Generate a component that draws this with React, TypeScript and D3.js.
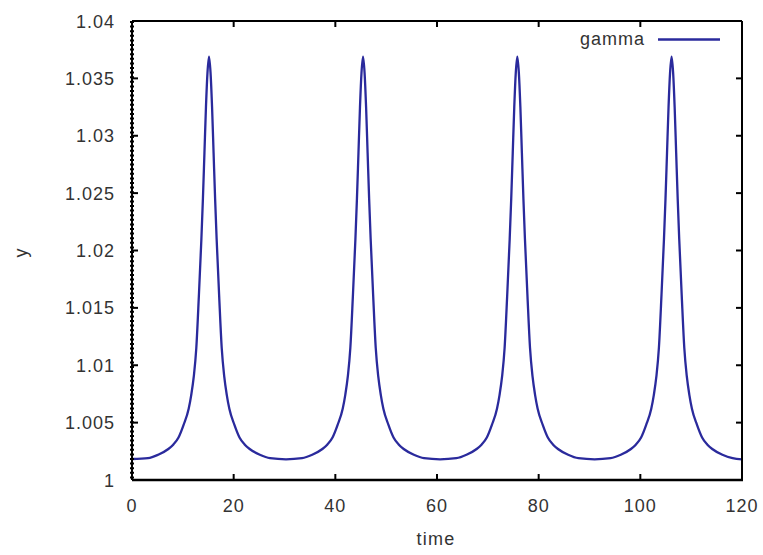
import React from "react";
import * as d3 from "d3";

// Sampled gamma(t) series
const timeValues: number[] = [
  0, 3.15, 5.15, 7.15, 8.15, 9.15, 10.15, 11.15, 11.65, 12.15, 12.65, 13.15, 13.65, 13.95, 14.25, 14.55, 14.85,
  15.15, 15.45, 15.75, 16.05, 16.35, 16.65, 17.15, 17.65, 18.15, 18.65, 19.15, 20.15, 21.15, 22.15, 23.15, 25.15, 27.15,
  30.3,
  33.45, 35.45, 37.45, 38.45, 39.45, 40.45, 41.45, 41.95, 42.45, 42.95, 43.45, 43.95, 44.25, 44.55, 44.85, 45.15,
  45.45, 45.75, 46.05, 46.35, 46.65, 46.95, 47.45, 47.95, 48.45, 48.95, 49.45, 50.45, 51.45, 52.45, 53.45, 55.45, 57.45,
  60.6,
  63.8, 65.8, 67.8, 68.8, 69.8, 70.8, 71.8, 72.3, 72.8, 73.3, 73.8, 74.3, 74.6, 74.9, 75.2, 75.5,
  75.8, 76.1, 76.4, 76.7, 77.0, 77.3, 77.8, 78.3, 78.8, 79.3, 79.8, 80.8, 81.8, 82.8, 83.8, 85.8, 87.8,
  91.0,
  94.15, 96.15, 98.15, 99.15, 100.15, 101.15, 102.15, 102.65, 103.15, 103.65, 104.15, 104.65, 104.95, 105.25, 105.55, 105.85,
  106.15, 106.45, 106.75, 107.05, 107.35, 107.65, 108.15, 108.65, 109.15, 109.65, 110.15, 111.15, 112.15, 113.15, 114.15, 116.15, 118.15,
  120,
];

const gammaValues: number[] = [
  1.00183, 1.0019, 1.0022, 1.0027, 1.0031, 1.0037, 1.0048, 1.0062, 1.0074, 1.009, 1.0115, 1.016, 1.021, 1.0245, 1.0285, 1.0325, 1.0355,
  1.0369, 1.0355, 1.0325, 1.0285, 1.0245, 1.021, 1.016, 1.0115, 1.009, 1.0074, 1.0062, 1.0048, 1.0037, 1.0031, 1.0027, 1.0022, 1.0019,
  1.0018,
  1.0019, 1.0022, 1.0027, 1.0031, 1.0037, 1.0048, 1.0062, 1.0074, 1.009, 1.0115, 1.016, 1.021, 1.0245, 1.0285, 1.0325, 1.0355,
  1.0369, 1.0355, 1.0325, 1.0285, 1.0245, 1.021, 1.016, 1.0115, 1.009, 1.0074, 1.0062, 1.0048, 1.0037, 1.0031, 1.0027, 1.0022, 1.0019,
  1.0018,
  1.0019, 1.0022, 1.0027, 1.0031, 1.0037, 1.0048, 1.0062, 1.0074, 1.009, 1.0115, 1.016, 1.021, 1.0245, 1.0285, 1.0325, 1.0355,
  1.0369, 1.0355, 1.0325, 1.0285, 1.0245, 1.021, 1.016, 1.0115, 1.009, 1.0074, 1.0062, 1.0048, 1.0037, 1.0031, 1.0027, 1.0022, 1.0019,
  1.0018,
  1.0019, 1.0022, 1.0027, 1.0031, 1.0037, 1.0048, 1.0062, 1.0074, 1.009, 1.0115, 1.016, 1.021, 1.0245, 1.0285, 1.0325, 1.0355,
  1.0369, 1.0355, 1.0325, 1.0285, 1.0245, 1.021, 1.016, 1.0115, 1.009, 1.0074, 1.0062, 1.0048, 1.0037, 1.0031, 1.0027, 1.0022, 1.0019,
  1.0018,
];

const xTicks: number[] = [0, 20, 40, 60, 80, 100, 120];
const yTicks: number[] = [1, 1.005, 1.01, 1.015, 1.02, 1.025, 1.03, 1.035, 1.04];
const yTickLabels: string[] = ["1", "1.005", "1.01", "1.015", "1.02", "1.025", "1.03", "1.035", "1.04"];

const W = 763;
const H = 555;
const M = { left: 132, right: 742, top: 21, bottom: 480 };
const FONT = "'Liberation Sans', Arial, sans-serif";
const LINE = "#2a2a9c";

export default function App() {
  const x = d3.scaleLinear().domain([0, 120]).range([M.left, M.right]);
  const y = d3.scaleLinear().domain([1, 1.04]).range([M.bottom, M.top]);
  const pts = timeValues.map((t, i) => [t, gammaValues[i]] as [number, number]);
  const path = d3
    .line<[number, number]>()
    .x((d) => x(d[0]))
    .y((d) => y(d[1]))
    .curve(d3.curveMonotoneX)(pts) as string;

  const tick = 6;
  return (
    <svg
      width={W}
      height={H}
      style={{ position: "absolute", left: 0, top: 0, background: "#fff" }}
      fontFamily={FONT}
    >
      <rect width={W} height={H} fill="#fff" />
      {/* data curve */}
      <path d={path} fill="none" stroke={LINE} strokeWidth={2.3} strokeLinejoin="round" />

      {/* frame */}
      <line x1={M.left} x2={M.right} y1={M.top} y2={M.top} stroke="#000" strokeWidth={2} />
      <line x1={M.left} x2={M.right + 1} y1={M.bottom} y2={M.bottom} stroke="#000" strokeWidth={2.4} />
      <line x1={M.right} x2={M.right} y1={M.top} y2={M.bottom} stroke="#000" strokeWidth={2} />
      <line x1={M.left} x2={M.left} y1={M.top} y2={M.bottom} stroke="#000" strokeWidth={2} />
      <line
        x1={M.left}
        x2={M.left}
        y1={M.top}
        y2={M.bottom}
        stroke="#000"
        strokeWidth={4}
        strokeDasharray="2 2.6"
      />

      {/* x ticks */}
      {xTicks.map((t) => (
        <g key={"x" + t}>
          {t > 0 && t < 120 && (
            <>
              <line x1={x(t)} x2={x(t)} y1={M.bottom} y2={M.bottom - tick} stroke="#000" strokeWidth={2} />
              <line x1={x(t)} x2={x(t)} y1={M.top} y2={M.top + tick} stroke="#000" strokeWidth={2} />
            </>
          )}
          <text
            x={x(t)}
            y={512}
            textAnchor="middle"
            fontSize={18}
            letterSpacing={1}
            fill="#333"
          >
            {t}
          </text>
        </g>
      ))}

      {/* y ticks */}
      {yTicks.map((v, i) => (
        <g key={"y" + v}>
          {i > 0 && i < yTicks.length - 1 && (
            <>
              <line x1={M.left} x2={M.left + tick} y1={y(v)} y2={y(v)} stroke="#000" strokeWidth={2} />
              <line x1={M.right} x2={M.right - tick} y1={y(v)} y2={y(v)} stroke="#000" strokeWidth={2} />
            </>
          )}
          <text
            x={115}
            y={y(v) + 6.5}
            textAnchor="end"
            fontSize={18}
            letterSpacing={1}
            fill="#333"
          >
            {yTickLabels[i]}
          </text>
        </g>
      ))}

      {/* axis titles */}
      <text x={436} y={545} textAnchor="middle" fontSize={18} letterSpacing={1.2} fill="#333">
        time
      </text>
      <text
        transform={`translate(27,253) rotate(-90)`}
        textAnchor="middle"
        fontSize={18}
        fill="#333"
      >
        y
      </text>

      {/* legend */}
      <text x={645} y={45} textAnchor="end" fontSize={18} letterSpacing={1} fill="#333">
        gamma
      </text>
      <line x1={658} x2={720} y1={39.5} y2={39.5} stroke={LINE} strokeWidth={2.3} />
    </svg>
  );
}
